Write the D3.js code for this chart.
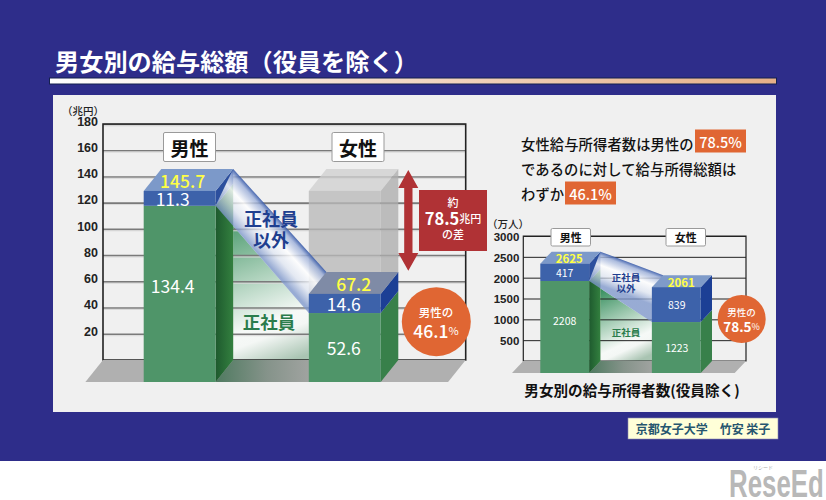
<!DOCTYPE html>
<html lang="ja">
<head>
<meta charset="utf-8">
<style>
html,body{margin:0;padding:0;background:#fff}
svg{display:block}
text{font-family:"Noto Sans CJK JP","Noto Sans",sans-serif}
.tick text{font-family:"Liberation Sans",sans-serif;font-weight:700;fill:#222}
.domain{display:none}
</style>
<script src="https://cdn.jsdelivr.net/npm/d3@7/dist/d3.min.js"></script>
</head>
<body>
<svg id="chart" width="826" height="500"></svg>
<script>
// Payroll totals (trillion yen)
const genders = ["男性", "女性"];
const payRegular = [134.4, 52.6];
const payNonRegular = [11.3, 14.6];
const payTotal = [145.7, 67.2];
const payTicks = [20, 40, 60, 80, 100, 120, 140, 160, 180];
// Number of earners (ten thousand people)
const headRegular = [2208, 1223];
const headNonRegular = [417, 839];
const headTotal = [2625, 2061];
const headTicks = [500, 1000, 1500, 2000, 2500, 3000];

const NAVY = "#2e2d8a", ORANGE = "#e06633", RED = "#b03235";
const svg = d3.select("#chart");
const defs = svg.append("defs");

function linear(id, x1, y1, x2, y2, stops) {
  const g = defs.append("linearGradient").attr("id", id).attr("gradientUnits", "userSpaceOnUse")
    .attr("x1", x1).attr("y1", y1).attr("x2", x2).attr("y2", y2);
  stops.forEach(s => g.append("stop").attr("offset", s[0]).attr("stop-color", s[1]).attr("stop-opacity", s[2] ?? 1));
  return `url(#${id})`;
}
const poly = (g, pts, fill, extra = 1) => g.append("polygon")
  .attr("points", pts.map(p => p.join(",")).join(" ")).attr("fill", fill).attr("opacity", extra);
function label(g, x, y, str, size, fill, weight = 400, anchor = "middle") {
  return g.append("text").attr("x", x).attr("y", y).attr("text-anchor", anchor)
    .attr("dominant-baseline", "central").attr("font-size", size).attr("font-weight", weight)
    .attr("fill", fill).text(str);
}

// Page background, heading and panel
svg.append("rect").attr("width", 826).attr("height", 500).attr("fill", "#fff");
svg.append("rect").attr("width", 826).attr("height", 461).attr("fill", NAVY);
label(svg, 55, 60.5, "男女別の給与総額（役員を除く）", 24.2, "#fff", 700, "start");
const rule = linear("rule", 49, 0, 777, 0, [[0, "#ffffff"], [1, "#e6b088"]]);
svg.append("rect").attr("x", 49.5).attr("y", 78).attr("width", 727).attr("height", 6)
  .attr("fill", rule).attr("stroke", "#14204e").attr("stroke-width", 1);
svg.append("rect").attr("x", 53).attr("y", 95).attr("width", 723).attr("height", 317).attr("fill", "#f0f0f0");

// One stacked 3D bar chart with the flow ribbons between its two columns
function drawBars(cfg) {
  const g = svg.append("g");
  const yBack = d3.scaleLinear().domain([0, cfg.max]).range([cfg.floor, cfg.top]);
  const yFront = v => yBack(v) + cfg.dy;
  const x = d3.scaleBand().domain(genders).range(cfg.xRange).paddingInner(cfg.gap).paddingOuter(0);
  const w = x.bandwidth(), dx = cfg.dx, dy = cfg.dy;
  const xM = x(genders[0]), xF = x(genders[1]);
  const baseF = yFront(0);

  // Flow area under the ribbon
  const mR = xM + w, fL = xF;
  const edgeAt = px => yFront(cfg.reg[0]) + (px - mR) * (yFront(cfg.reg[1]) - yFront(cfg.reg[0])) / (fL - mR);
  const greenFlow = linear(cfg.id + "gf", mR + dx + 6, yBack(cfg.reg[0]) + 15, fL - 10, cfg.floor - 2, [
    [0, "#2f8a58"], [0.45, "#a9cfb8"], [0.74, "#f6f9f7"], [0.82, "#f4f7f5"], [1, "#a9c4b2"]]);
  poly(g, [[mR + dx, edgeAt(mR + dx)], [fL, yFront(cfg.reg[1])], [fL, cfg.floor], [mR + dx, cfg.floor]], greenFlow);

  // Gridlines and tick labels come from a left axis
  const axis = d3.axisLeft(yBack).tickValues(cfg.ticks).tickSize(-(cfg.right - cfg.left)).tickPadding(cfg.pad).tickFormat(d3.format("d"));
  const ag = g.append("g").attr("transform", `translate(${cfg.left},0)`).call(axis);
  ag.selectAll(".tick line").attr("stroke", cfg.gridColor).attr("stroke-width", cfg.gridWidth);
  ag.selectAll(".tick text").attr("font-size", cfg.tickSize).attr("dy", cfg.tickDy);
  if (cfg.shadow) ag.selectAll(".tick").append("line").attr("x2", cfg.right - cfg.left).attr("y1", 1.4).attr("y2", 1.4)
    .attr("stroke", "#d8d8d8").attr("stroke-width", 1);

  // Frame and floor
  g.append("path").attr("fill", "none").attr("stroke", "#222").attr("stroke-width", cfg.frame)
    .attr("d", `M${cfg.left},${cfg.floor}V${cfg.top}H${cfg.right}V${cfg.floor}Z`);
  poly(g, [[cfg.left - dx, baseF], [cfg.left, cfg.floor], [cfg.right, cfg.floor], [cfg.right - dx, baseF]], "#b0b0b0");
  const floorMid = linear(cfg.id + "fm", mR, 0, fL, 0, [[0, "#4f7a60"], [0.55, "#85938a"], [1, "#a0a3a0"]]);
  poly(g, [[mR, baseF], [mR + dx, cfg.floor], [fL + dx, cfg.floor], [fL, baseF]], floorMid);

  // Ghost column repeating the male total in the female position
  if (cfg.ghost) {
    const t = yFront(cfg.total[0]), b = yFront(cfg.total[1]);
    poly(g, [[xF, t], [xF + dx, t - dy], [xF + w + dx, t - dy], [xF + w, t]], "#cfcfcf", 0.75);
    g.append("rect").attr("x", xF).attr("y", t).attr("width", w).attr("height", b - t).attr("fill", "#b8b8b8").attr("opacity", 0.78);
    poly(g, [[xF + w, t], [xF + w + dx, t - dy], [xF + w + dx, b - dy], [xF + w, b]], "#adadad", 0.78);
  }

  // Male column
  const mTop = yFront(cfg.total[0]), mReg = yFront(cfg.reg[0]);
  const sideG = linear(cfg.id + "sg", mR, 0, mR + dx, 0, [[0, "#1e5a2e"], [1, "#33803f"]]);
  poly(g, [[mR, mReg], [mR + dx, mReg - dy], [mR + dx, cfg.floor], [mR, baseF]], sideG);
  poly(g, [[mR, mTop], [mR + dx, mTop - dy], [mR + dx, mReg - dy], [mR, mReg]], "#2c4f9e");
  poly(g, [[xM, mTop], [xM + dx, mTop - dy], [mR + dx, mTop - dy], [mR, mTop]], "#7c99c9");

  // Blue ribbon joining the two column tops
  const fTop = yFront(cfg.total[1]), fReg = yFront(cfg.reg[1]);
  const ax = mR + dx, ay = mTop - dy, bx = fL + dx, by = fTop - dy;
  const len = Math.hypot(bx - ax, by - ay), nx = -(by - ay) / len, ny = (bx - ax) / len;
  const dist = (mR - ax) * nx + (mReg - ay) * ny;
  const ribbon = linear(cfg.id + "rb", ax, ay, ax + nx * dist, ay + ny * dist, [
    [0, "#3558a8", 0.9], [0.12, "#9db0da", 0.8], [0.4, "#ffffff", 0.85], [0.7, "#dfe6f3", 0.7], [1, "#7f98cc", 0.78]]);
  poly(g, [[ax, ay], [bx, by], [fL, fReg], [mR, mReg]], ribbon);

  // Male front faces
  g.append("rect").attr("x", xM).attr("y", mReg).attr("width", w).attr("height", baseF - mReg).attr("fill", "#4f9569");
  g.append("rect").attr("x", xM).attr("y", mTop).attr("width", w).attr("height", mReg - mTop).attr("fill", "#3d62aa");

  // Female column
  poly(g, [[xF + w, fReg], [xF + w + dx, fReg - dy], [xF + w + dx, cfg.floor], [xF + w, baseF]], "#38804a");
  poly(g, [[xF + w, fTop], [xF + w + dx, fTop - dy], [xF + w + dx, fReg - dy], [xF + w, fReg]], "#1c3f95");
  poly(g, [[xF, fTop], [xF + dx, fTop - dy], [xF + w + dx, fTop - dy], [xF + w, fTop]], cfg.fTopFill);
  g.append("rect").attr("x", xF).attr("y", fReg).attr("width", w).attr("height", baseF - fReg).attr("fill", "#4f9569");
  g.append("rect").attr("x", xF).attr("y", fTop).attr("width", w).attr("height", fReg - fTop).attr("fill", "#3d62aa");

  // Category tags
  genders.forEach((d, i) => {
    const b = cfg.tags[i];
    g.append("rect").attr("x", b).attr("y", cfg.tagY).attr("width", cfg.tagW).attr("height", cfg.tagH).attr("rx", 1.5)
      .attr("fill", "#fff").attr("stroke", "#9a9a9a").attr("stroke-width", 1);
    label(g, b + cfg.tagW / 2, cfg.tagY + cfg.tagH / 2, d, cfg.tagFont, "#111", 700);
  });

  // Value labels, each centred on its own segment
  const cx = i => x(genders[i]) + w / 2 + cfg.labelNudge[i];
  genders.forEach((d, i) => {
    label(g, cx(i) + cfg.totalNudge, (yFront(cfg.total[i]) + yBack(cfg.total[i])) / 2 + 0.5, cfg.total[i], cfg.totalFont, "#ffff45", cfg.totalWeight);
    label(g, cx(i), (yFront(cfg.total[i]) + yFront(cfg.reg[i])) / 2, cfg.non[i], cfg.font, "#fff", cfg.valueWeight);
    label(g, cx(i), i === 0 ? cfg.regY0 : (yFront(cfg.reg[i]) + baseF) / 2, cfg.reg[i], cfg.font, "#fff", cfg.valueWeight);
  });
  return g;
}

// Main chart: payroll totals
const main = drawBars({
  id: "pay", max: 180, top: 124, floor: 360, left: 103, right: 465.7, dy: 22, dx: 17.6,
  xRange: [143.7, 380.7], gap: 93.3 / 165.3, ticks: payTicks, tickSize: 12.5, tickDy: "0.1em", pad: 5,
  gridColor: "#7a7a7a", gridWidth: 1.6, shadow: true, frame: 1.6,
  reg: payRegular, non: payNonRegular, total: payTotal, ghost: true, fTopFill: "#7f8ba6",
  tags: [163.5, 332], tagY: 132.5, tagW: 52, tagH: 29, tagFont: 19,
  labelNudge: [-7, -1], totalNudge: 10, font: 17.5, totalFont: 17.5, valueWeight: 400, totalWeight: 500, regY0: 285
});
label(main, 83, 110, "（兆円）", 10.5, "#222", 500);
label(main, 271, 218, "正社員", 18, "#1f3f8f", 700);
label(main, 271, 238.5, "以外", 18, "#1f3f8f", 700);
label(main, 269, 321.5, "正社員", 17.5, "#2b7c4c", 700);

// Red difference arrow
const arrow = d3.path();
arrow.moveTo(408.3, 170); arrow.lineTo(418.3, 188); arrow.lineTo(412.5, 188); arrow.lineTo(412.5, 253);
arrow.lineTo(418.3, 253); arrow.lineTo(408.3, 270.7); arrow.lineTo(398.3, 253); arrow.lineTo(404.2, 253);
arrow.lineTo(404.2, 188); arrow.lineTo(398.3, 188); arrow.closePath();
main.append("path").attr("d", arrow.toString()).attr("fill", RED);
main.append("rect").attr("x", 419).attr("y", 190).attr("width", 68).attr("height", 61).attr("fill", RED);
label(main, 453, 201.5, "約", 11, "#fff", 500);
const gap = label(main, 453, 218, "", 16.5, "#fff", 700);
gap.append("tspan").text("78.5");
gap.append("tspan").attr("font-size", 11).attr("font-weight", 500).text("兆円");
label(main, 453, 234, "の差", 11, "#fff", 500);

// Female share of male payroll
main.append("circle").attr("cx", 436.3).attr("cy", 321.7).attr("r", 34.5).attr("fill", ORANGE);
label(main, 436, 312, "男性の", 11.5, "#fff", 500);
const shareA = label(main, 436, 330, "", 17.5, "#fff", 500);
shareA.append("tspan").text("46.1");
shareA.append("tspan").attr("font-size", 11).attr("font-weight", 400).text("%");

// Side note
const noteX = 521;
function note(y, str) {
  return label(svg, noteX, y, str, 14.3, "#111", 500, "start").attr("letter-spacing", 0.1);
}
note(143, "女性給与所得者数は男性の");
note(168, "であるのに対して給与所得総額は");
note(193, "わずか");
[[695, 141, "78.5%"], [565, 193, "46.1%"]].forEach(([bx, by, s]) => {
  svg.append("rect").attr("x", bx).attr("y", by - 11.5).attr("width", 51).attr("height", 23).attr("fill", ORANGE);
  label(svg, bx + 25.5, by, s, 14.5, "#fff", 500);
});

// Small chart: number of earners
const side = drawBars({
  id: "head", max: 3000, top: 236, floor: 361, left: 523.3, right: 746, dy: 12, dx: 11.3,
  xRange: [540.3, 700.7], gap: 62.7 / 111.5, ticks: headTicks, tickSize: 11.5, tickDy: "0.38em", pad: 4,
  gridColor: "#222", gridWidth: 1, shadow: false, frame: 1.2,
  reg: headRegular, non: headNonRegular, total: headTotal, ghost: false, fTopFill: "#7f9bc9",
  tags: [551, 666], tagY: 228.5, tagW: 39.5, tagH: 17.5, tagFont: 11,
  labelNudge: [0, 0.5], totalNudge: 4.5, font: 10.5, totalFont: 11.5, valueWeight: 400, totalWeight: 700, regY0: 320.5
});
label(side, 508, 223, "（万人）", 10.5, "#222", 500);
label(side, 626, 277, "正社員", 9.5, "#1f3f8f", 700);
label(side, 626, 288, "以外", 9.5, "#1f3f8f", 700);
label(side, 626, 332, "正社員", 9.5, "#2b7c4c", 700);
label(side, 632, 389, "男女別の給与所得者数(役員除く)", 14.6, "#111", 700);

side.append("circle").attr("cx", 741.7).attr("cy", 319).attr("r", 24).attr("fill", ORANGE);
label(side, 741.5, 312, "男性の", 9.5, "#fff", 500);
const shareB = label(side, 741.5, 326, "", 13.5, "#fff", 700);
shareB.append("tspan").text("78.5");
shareB.append("tspan").attr("font-size", 9).attr("font-weight", 400).text("%");

// Author credit
svg.append("rect").attr("x", 628).attr("y", 418).attr("width", 150).attr("height", 21)
  .attr("fill", "#ffffd8").attr("stroke", "#8a8ab0").attr("stroke-width", 0.6);
label(svg, 703, 428.5, "京都女子大学　竹安 栄子", 12, "#26566f", 700);

// Publisher mark, narrowed horizontally
const brand = svg.append("g").attr("transform", "translate(729,484) scale(0.68,1)");
label(brand, 0, 0, "ReseEd", 38, "#b8b8b8", 700, "start").style("font-family", "'Liberation Sans',sans-serif");
label(svg, 763, 466, "リシード", 5, "#aaa", 400);
</script>
</body>
</html>
